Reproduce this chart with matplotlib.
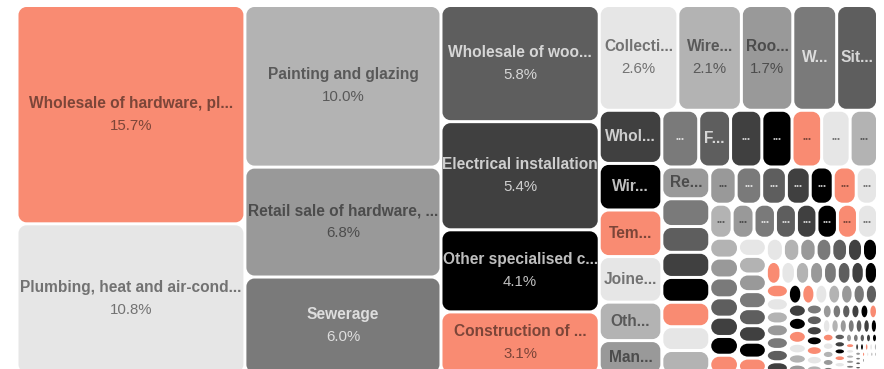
import matplotlib
matplotlib.use("Agg")
import matplotlib.pyplot as plt
from matplotlib.path import Path
from matplotlib.patches import PathPatch
from matplotlib.colors import to_rgb

# === 1. Data: share of the total, in % (sorted by size) ===
main_labels = ["Wholesale of hardware, pl...", "Plumbing, heat and air-cond...",
               "Painting and glazing", "Retail sale of hardware, ...", "Sewerage",
               "Wholesale of woo...", "Electrical installation", "Other specialised c...",
               "Construction of ...", "Collecti...", "Wire...", "Roo...", "W...", "Sit...",
               "Whol...", "Wir...", "Tem...", "Joine...", "Oth...", "Man..."]
main_values = [15.7, 10.8, 10.0, 6.8, 6.0, 5.8, 5.4, 4.1, 3.1, 2.6, 2.1, 1.7, 1.45, 1.35,
               1.05, 0.92, 0.92, 0.90, 0.76, 0.66]

# mid-sized categories, only a truncated label (or nothing) fits
mid_labels = ["...", "F...", "...", "...", "...", "...", "...",
              "Re...", "", "", "", "", "", "", "",
              "...", "...", "...", "...", "...", "...", "...",
              "...", "...", "...", "...", "...", "...", "...", "..."]
mid_values = [0.66, 0.57, 0.56, 0.54, 0.53, 0.51, 0.49,
              0.48, 0.42, 0.39, 0.38, 0.375, 0.37, 0.36, 0.355,
              0.31, 0.30, 0.29, 0.28, 0.27, 0.27, 0.25,
              0.24, 0.235, 0.23, 0.225, 0.22, 0.22, 0.215, 0.215]

# long tail of small categories (no label)
tail_values = [0.18, 0.18, 0.18, 0.175, 0.175, 0.17, 0.17,
               0.16, 0.155, 0.155, 0.15, 0.15, 0.145, 0.14, 0.14,
               0.125, 0.12, 0.12, 0.115, 0.115, 0.11, 0.11, 0.105,
               0.104, 0.102, 0.10, 0.099, 0.098, 0.096, 0.095, 0.094, 0.092, 0.09,
               0.089, 0.088, 0.086, 0.085, 0.084, 0.082, 0.081, 0.08, 0.078, 0.077,
               0.076, 0.075, 0.074, 0.073,
               0.06, 0.058, 0.056, 0.055, 0.054, 0.052, 0.05, 0.049, 0.048, 0.046, 0.045, 0.044,
               0.043, 0.042, 0.041, 0.04, 0.039, 0.038, 0.037, 0.036, 0.035, 0.034, 0.033,
               0.032, 0.031, 0.03, 0.029,
               0.028, 0.027, 0.026, 0.025, 0.024, 0.023, 0.022, 0.021, 0.02, 0.019, 0.018,
               0.018, 0.017, 0.016, 0.015,
               0.015, 0.014, 0.014, 0.013, 0.013, 0.012, 0.012, 0.011, 0.011, 0.010, 0.010,
               0.009, 0.009, 0.008, 0.008, 0.008, 0.007, 0.007, 0.006, 0.006,
               0.006, 0.005, 0.005, 0.005, 0.004, 0.004, 0.004, 0.004, 0.003, 0.003, 0.003,
               0.003, 0.003, 0.002, 0.002, 0.002, 0.002, 0.002, 0.002, 0.001]

palette = ["#F98B72", "#E6E6E6", "#B3B3B3", "#999999", "#7A7A7A", "#5E5E5E", "#404040", "#000000"]

values = main_values + mid_values + tail_values
labels = main_labels + mid_labels + [""] * len(tail_values)
total = sum(values)


# === 2. Squarified treemap layout (golden ratio) ===
def squarify(vals, x0, y0, x1, y1, ratio=(1 + 5 ** 0.5) / 2):
    rects = []
    n = len(vals)
    i0 = 0
    value = sum(vals)
    while i0 < n:
        dx, dy = x1 - x0, y1 - y0
        i1 = i0
        sum_v = vals[i1]
        i1 += 1
        min_v = max_v = sum_v
        alpha = max(dy / dx, dx / dy) / (value * ratio)
        beta = sum_v * sum_v * alpha
        min_ratio = max(max_v / beta, beta / min_v)
        while i1 < n:
            v = vals[i1]
            s = sum_v + v
            mn, mx = min(min_v, v), max(max_v, v)
            beta = s * s * alpha
            new_ratio = max(mx / beta, beta / mn)
            if new_ratio > min_ratio:
                break
            sum_v, min_v, max_v, min_ratio = s, mn, mx, new_ratio
            i1 += 1
        row = vals[i0:i1]
        if dx < dy:
            h = dy * sum_v / value if i1 < n else dy
            xx = x0
            for v in row:
                w = dx * v / sum_v
                rects.append((xx, y0, w, h))
                xx += w
            y0 += h
        else:
            w = dx * sum_v / value if i1 < n else dx
            yy = y0
            for v in row:
                h = dy * v / sum_v
                rects.append((x0, yy, w, h))
                yy += h
            x0 += w
        value -= sum_v
        i0 = i1
    return rects


def rounded_rect(x, y, w, h, r=8.0):
    rx, ry = min(r, w / 2), min(r, h / 2)
    k = 0.5523
    verts = [(x + rx, y), (x + w - rx, y),
             (x + w - rx + k * rx, y), (x + w, y + ry - k * ry), (x + w, y + ry),
             (x + w, y + h - ry),
             (x + w, y + h - ry + k * ry), (x + w - rx + k * rx, y + h), (x + w - rx, y + h),
             (x + rx, y + h),
             (x + rx - k * rx, y + h), (x, y + h - ry + k * ry), (x, y + h - ry),
             (x, y + ry),
             (x, y + ry - k * ry), (x + rx - k * rx, y), (x + rx, y),
             (x + rx, y)]
    codes = ([Path.MOVETO, Path.LINETO] + [Path.CURVE4] * 3 + [Path.LINETO] + [Path.CURVE4] * 3
             + [Path.LINETO] + [Path.CURVE4] * 3 + [Path.LINETO] + [Path.CURVE4] * 3 + [Path.CLOSEPOLY])
    return Path(verts, codes)


# === 3. Draw ===
plt.rcParams['font.family'] = ['Liberation Sans', 'DejaVu Sans']
fig = plt.figure(figsize=(8.84, 3.69), dpi=100)
ax = fig.add_axes([0, 0, 1, 1])
ax.set_xlim(0, 884)
ax.set_ylim(369, 0)
ax.axis("off")

# plot area runs a little past the bottom edge of the picture
rects = squarify(values, 17.0, 5.5, 877.5, 374.0)
pad = 1.5
fs_name = 11.2
fs_pct = 10.8
for i, (x, y, w, h) in enumerate(rects):
    tw, th = w - 2 * pad, h - 2 * pad
    if tw <= 0.2 or th <= 0.2:
        continue
    color = palette[i % len(palette)]
    ax.add_patch(PathPatch(rounded_rect(x + pad, y + pad, tw, th), facecolor=color,
                           edgecolor="none", lw=0))
    lab = labels[i]
    if not lab or th < 25:
        continue
    r, g, b = to_rgb(color)
    lum = 0.2126 * r + 0.7152 * g + 0.0722 * b
    tc = (0, 0, 0, 0.5) if lum > 0.5 else (1, 1, 1, 0.75)
    cx, cy = x + w / 2, y + h / 2
    if lab == "...":
        ax.text(cx, cy + 1, "•••", ha="center", va="center", fontsize=6, color=tc)
    elif tw >= 45 and th >= 54:
        ax.text(cx, cy - 11.5, lab, ha="center", va="center", fontsize=fs_name,
                fontweight="bold", color=tc)
        ax.text(cx, cy + 11, f"{values[i] / total * 100:.1f}%", ha="center",
                va="center", fontsize=fs_pct, color=tc)
    else:
        ax.text(cx, cy, lab, ha="center", va="center", fontsize=fs_name,
                fontweight="bold", color=tc)

fig.savefig("out.png", dpi=100)
